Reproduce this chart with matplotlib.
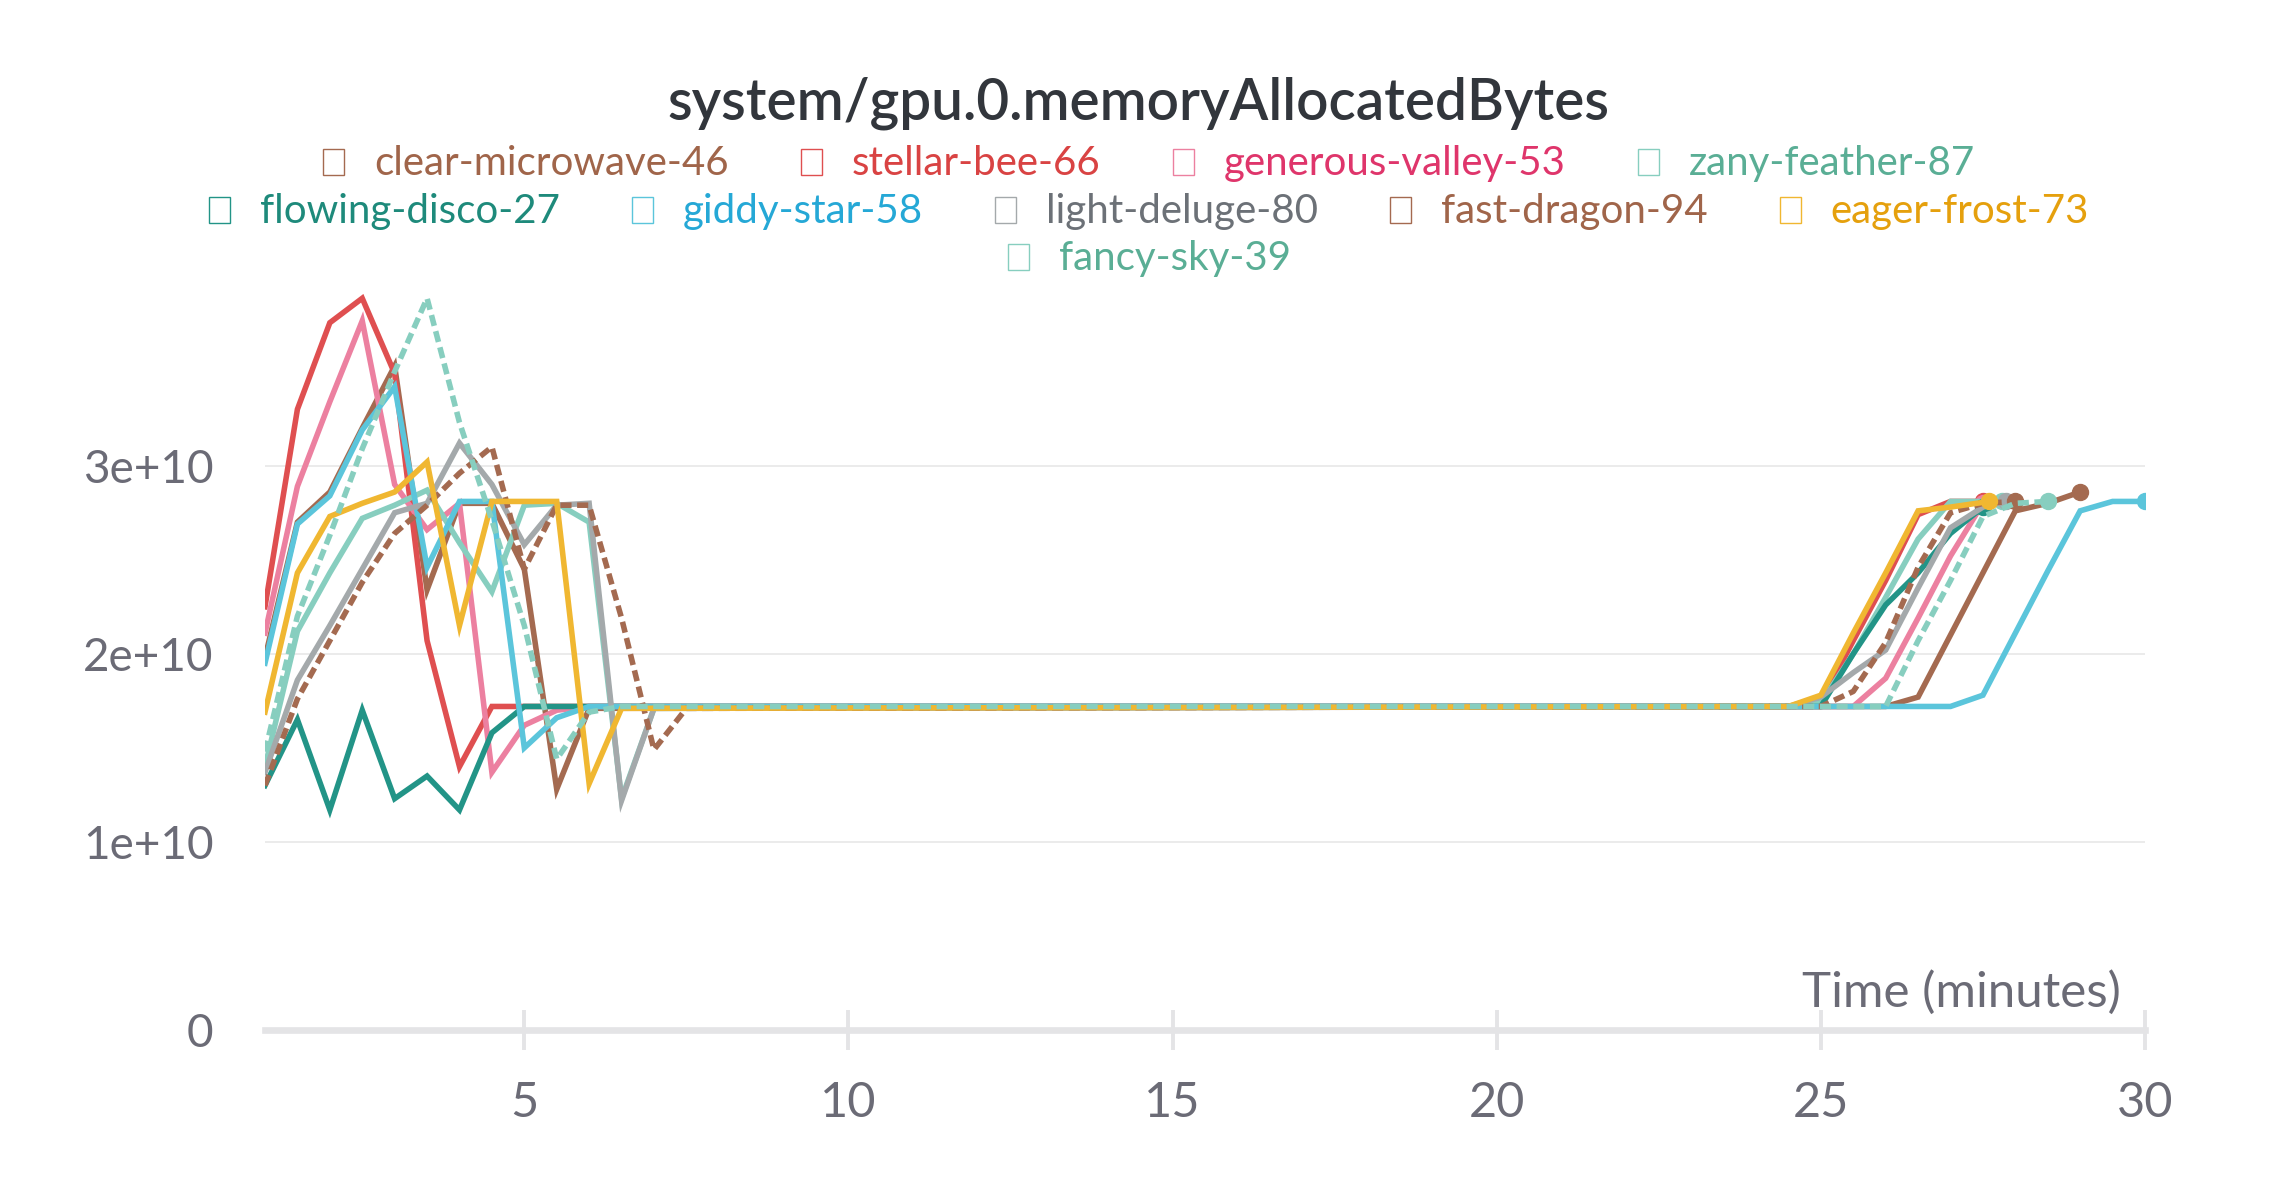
import matplotlib
matplotlib.use("Agg")
import matplotlib.pyplot as plt
from matplotlib.patches import Rectangle

plt.rcParams['font.family'] = ['Lato', 'DejaVu Sans']

# tamaño de la figura en pixeles
W, H = 2275, 1195

# tiempos comunes del arranque (minutos), valores en unidades de 1e10 bytes
HEAD_T = [1.0, 1.5, 2.0, 2.5, 3.0, 3.5, 4.0, 4.5, 5.0, 5.5, 6.0, 6.5, 7.0, 7.5, 8.0]

clear_head = [1.98, 2.70, 2.86, 3.20, 3.53, 2.34, 2.80, 2.80, 2.45, 1.28, 1.71]
clear_tail_t = [26.0, 26.5, 27.0, 27.5, 28.0, 28.5, 29.0]
clear_tail_v = [1.72, 1.77, 2.10, 2.43, 2.76, 2.80, 2.86]

stellar_head = [2.25, 3.30, 3.76, 3.89, 3.49, 2.07, 1.40, 1.72]
stellar_tail_t = [24.5, 25.0, 25.5, 26.0, 26.5, 27.0, 27.5]
stellar_tail_v = [1.72, 1.74, 2.07, 2.39, 2.74, 2.81, 2.81]

generous_head = [2.11, 2.89, 3.34, 3.77, 2.90, 2.66, 2.80, 1.37, 1.62, 1.70, 1.72]
generous_tail_t = [25.5, 26.0, 26.5, 27.0, 27.5]
generous_tail_v = [1.72, 1.87, 2.19, 2.52, 2.80]

zany_head = [1.40, 2.12, 2.43, 2.72, 2.79, 2.87, 2.59, 2.33, 2.79, 2.80, 2.70, 1.23, 1.71]
zany_tail_t = [24.5, 25.0, 25.5, 26.0, 26.5, 27.0, 27.5, 27.8]
zany_tail_v = [1.72, 1.74, 2.00, 2.30, 2.61, 2.81, 2.81, 2.81]

flowing_head = [1.30, 1.65, 1.17, 1.70, 1.23, 1.35, 1.17, 1.58, 1.72]
flowing_tail_t = [24.5, 25.0, 25.5, 26.0, 26.5, 27.0, 27.5]
flowing_tail_v = [1.72, 1.72, 2.00, 2.26, 2.43, 2.64, 2.78]

giddy_head = [1.95, 2.69, 2.84, 3.19, 3.42, 2.46, 2.81, 2.81, 1.50, 1.66, 1.72]
giddy_tail_t = [27.0, 27.5, 28.0, 28.5, 29.0, 29.5, 30.0]
giddy_tail_v = [1.72, 1.78, 2.11, 2.44, 2.76, 2.81, 2.81]

light_head = [1.37, 1.86, 2.15, 2.45, 2.75, 2.80, 3.12, 2.90, 2.58, 2.79, 2.80, 1.22, 1.71]
light_tail_t = [24.5, 25.0, 25.5, 26.0, 26.5, 27.0, 27.5, 27.85]
light_tail_v = [1.72, 1.77, 1.90, 2.02, 2.35, 2.67, 2.78, 2.81]

fast_head = [1.30, 1.76, 2.07, 2.38, 2.64, 2.79, 2.96, 3.10, 2.45, 2.79, 2.79, 2.19, 1.49, 1.71]
fast_tail_t = [24.5, 25.0, 25.5, 26.0, 26.5, 27.0, 27.5, 28.0]
fast_tail_v = [1.72, 1.72, 1.80, 2.06, 2.46, 2.75, 2.80, 2.81]

eager_head = [1.69, 2.43, 2.73, 2.80, 2.86, 3.02, 2.15, 2.81, 2.81, 2.81, 1.31, 1.71]
eager_tail_t = [24.5, 25.0, 25.5, 26.0, 26.5, 27.0, 27.6]
eager_tail_v = [1.72, 1.78, 2.11, 2.43, 2.76, 2.78, 2.81]

fancy_head = [1.48, 2.20, 2.63, 3.09, 3.50, 3.89, 3.23, 2.71, 2.15, 1.44, 1.69, 1.72]
fancy_tail_t = [26.0, 26.5, 27.0, 27.5, 28.0, 28.5]
fancy_tail_v = [1.72, 2.07, 2.39, 2.73, 2.80, 2.81]

# nombre, datos, color de linea, color del texto, discontinua
runs = [
    ("clear-microwave-46", clear_head, clear_tail_t, clear_tail_v, "#a46a50", "#a0654a", False),
    ("stellar-bee-66", stellar_head, stellar_tail_t, stellar_tail_v, "#df4f50", "#d94343", False),
    ("generous-valley-53", generous_head, generous_tail_t, generous_tail_v, "#ec80a0", "#df356b", False),
    ("zany-feather-87", zany_head, zany_tail_t, zany_tail_v, "#87cebf", "#5aae95", False),
    ("flowing-disco-27", flowing_head, flowing_tail_t, flowing_tail_v, "#229487", "#1e8a7b", False),
    ("giddy-star-58", giddy_head, giddy_tail_t, giddy_tail_v, "#5bc5db", "#25a8d6", False),
    ("light-deluge-80", light_head, light_tail_t, light_tail_v, "#a4a9ab", "#6c7177", False),
    ("fast-dragon-94", fast_head, fast_tail_t, fast_tail_v, "#a46a50", "#a0654a", True),
    ("eager-frost-73", eager_head, eager_tail_t, eager_tail_v, "#f0b731", "#e5a00d", False),
    ("fancy-sky-39", fancy_head, fancy_tail_t, fancy_tail_v, "#87cebf", "#5aae95", True),
]

legend_rows = [[0, 1, 2, 3], [4, 5, 6, 7, 8], [9]]

fig = plt.figure(figsize=(W / 100, H / 100), dpi=100)
ax = fig.add_axes([265 / W, 165 / H, (2145 - 265) / W, (1030 - 287) / H])

for name, head, tail_t, tail_v, color, tcolor, dashed in runs:
    t = HEAD_T[:len(head)] + tail_t
    v = [x * 1e10 for x in head + tail_v]
    ls = (0, (2, 1)) if dashed else "-"
    ax.plot(t, v, color=color, linewidth=4.0, linestyle=ls, solid_joinstyle="miter")
    ax.plot(t[-1], v[-1], "o", color=color, markersize=11.5)

ax.set_xlim(1.0, 30.0)
ax.set_ylim(0, 3.95e10)

# ejes estilo wandb
for s in ["top", "right", "left"]:
    ax.spines[s].set_visible(False)
ax.spines["bottom"].set_color("#e4e4e6")
ax.spines["bottom"].set_linewidth(4.8)

ax.set_xticks([5, 10, 15, 20, 25, 30])
ax.set_xticklabels(["5", "10", "15", "20", "25", "30"])
ax.set_yticks([0, 1e10, 2e10, 3e10])
ax.set_yticklabels(["0", "1e+10", "2e+10", "3e+10"])
ax.tick_params(axis="x", direction="inout", length=29, width=2.8, color="#e4e4e6",
               pad=22, labelsize=35, labelcolor="#6b6b76")
ax.tick_params(axis="y", length=0, pad=37, labelsize=33, labelcolor="#6b6b76")
ax.grid(axis="y", color="#e6e6e6", linewidth=1.1)
ax.set_axisbelow(True)

fig.text(2121 / W, 1 - 992 / H, "Time (minutes)", ha="right", va="center",
         fontsize=35.5, color="#6b6b76")

# titulo
fig.text(1138 / W, 1 - 120 / H, "system/gpu.0.memoryAllocatedBytes", ha="center",
         va="baseline", fontsize=40.8, fontweight="semibold", color="#32363c")

# leyenda manual con cuadritos vacios
renderer = fig.canvas.get_renderer()
row_base = [175, 222.5, 270]
for r, row in enumerate(legend_rows):
    texts = []
    widths = []
    for i in row:
        txt = fig.text(0, 1 - row_base[r] / H, runs[i][0], ha="left", va="baseline",
                       fontsize=29, color=runs[i][5])
        texts.append(txt)
        widths.append(txt.get_window_extent(renderer).width)
    total = sum(51 + w for w in widths) + 72 * (len(row) - 1)
    x = 1149 - total / 2
    for txt, w, i in zip(texts, widths, row):
        fig.patches.append(Rectangle((x / W, 1 - row_base[r] / H), 21 / W, 26 / H,
                                     transform=fig.transFigure, fill=False,
                                     edgecolor=runs[i][4], linewidth=1.0))
        txt.set_x((x + 51) / W)
        x += 51 + w + 72

fig.savefig("out.png", dpi=100)
